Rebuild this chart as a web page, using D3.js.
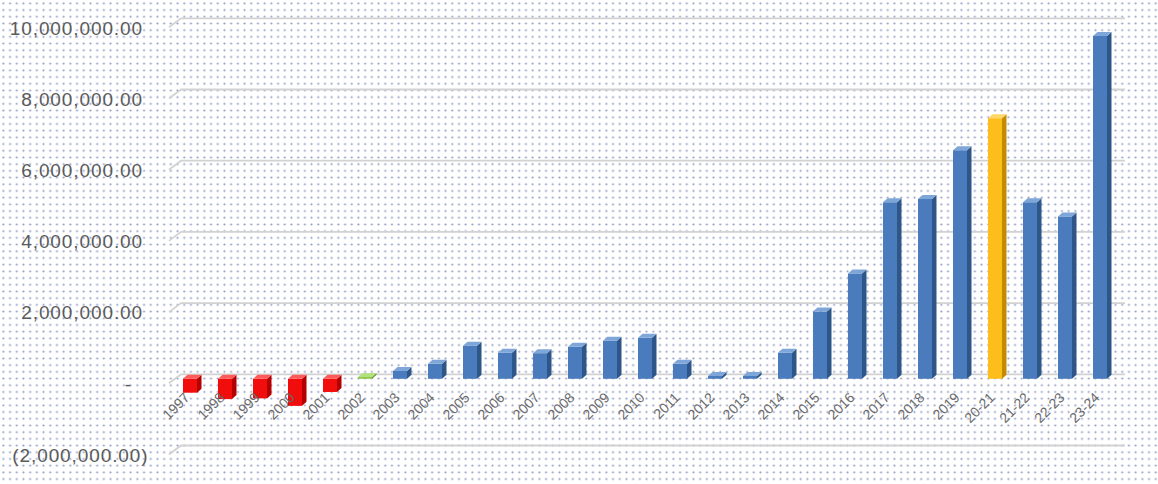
<!DOCTYPE html>
<html>
<head>
<meta charset="utf-8">
<script src="https://cdn.jsdelivr.net/npm/d3@7"></script>
<style>
  html, body { margin: 0; padding: 0; background: #ffffff; }
  svg { display: block; }
</style>
</head>
<body>
<svg id="chart" width="1158" height="484"></svg>
<script>
// ---- data ----
const categories = ["1997","1998","1999","2000","2001","2002","2003","2004","2005","2006","2007","2008","2009","2010","2011","2012","2013","2014","2015","2016","2017","2018","2019","20-21","21-22","22-23","23-24"];
const values = [-390000, -570000, -550000, -760000, -370000, 50000, 220000, 420000, 930000, 730000, 720000, 900000, 1070000, 1150000, 420000, 80000, 80000, 730000, 1890000, 2960000, 4960000, 5050000, 6420000, 7320000, 4960000, 4560000, 9630000];
const barGroups = ["red","red","red","red","red","green","blue","blue","blue","blue","blue","blue","blue","blue","blue","blue","blue","blue","blue","blue","blue","blue","blue","gold","blue","blue","blue"];
const yTicks = [-2000000, 0, 2000000, 4000000, 6000000, 8000000, 10000000];

// ---- styles ----
const palette = {
  red:   {front: "#f20d0d", side: "#b50000", top: "#ff5a5a"},
  green: {front: "#8fc84a", side: "#5f9a25", top: "#b5e07f"},
  blue:  {front: "#4a7cbd", side: "#2f5688", top: "#7fa6d8"},
  gold:  {front: "#fdbd1a", side: "#c58b00", top: "#ffd766"}
};

const svg = d3.select("#chart");
const W = 1158, H = 484;

// dotted background
const defs = svg.append("defs");
const P = 6.7;
const pat = defs.append("pattern").attr("id", "dots")
  .attr("patternUnits", "userSpaceOnUse").attr("width", P).attr("height", P);
pat.append("rect").attr("width", P).attr("height", P).attr("fill", "#ffffff");
pat.append("circle").attr("cx", P / 2).attr("cy", P / 2).attr("r", 1.05).attr("fill", "#8f99c4");
svg.append("rect").attr("width", W).attr("height", H).attr("fill", "url(#dots)");

// scales
const yBack = d3.scaleLinear().domain([-2000000, 10000000]).range([445.5, 18.3]);
const frontDy = 4.5;             // front face offset below back wall
const depthDx = 4.5, depthDy = 4; // bar depth projection
const yFront = v => yBack(v) + frontDy;
const x = d3.scaleBand().domain(categories).range([172.5, 1117.5]).padding(0);
const barW = 14;

// gridlines (back wall + left side wall slant)
const grid = svg.append("g");
const wallX0 = 169, wallX1 = 181, gridEnd = 1125, slantDy = 9;
yTicks.forEach(t => {
  const yy = yBack(t);
  grid.append("path")
    .attr("d", `M${wallX0},${yy + slantDy}L${wallX1},${yy}L${gridEnd},${yy}`)
    .attr("fill", "none").attr("stroke", "#d2d2d2").attr("stroke-width", 1.8);
});

// y axis labels
const yLab = d3.scaleLinear().domain(yBack.domain()).range(yBack.range().map(r => r + slantDy));
const fmtNum = d3.format(",.2f");
const yAxis = d3.axisLeft(yLab).tickValues(yTicks).tickSize(0).tickPadding(0)
  .tickFormat(v => v === 0 ? "-" : (v < 0 ? "(" + fmtNum(-v) + ")" : fmtNum(v)));
const yg = svg.append("g").attr("transform", "translate(143,0)").call(yAxis);
yg.select(".domain").remove();
yg.selectAll("text")
  .attr("fill", "#5a5a5a")
  .style("font-family", "'Liberation Sans', Arial, sans-serif")
  .style("font-size", "19px")
  .style("letter-spacing", "0.9px")
  .attr("dy", "0.36em")
  .attr("x", d => d < 0 ? 5.5 : (d === 0 ? -11 : 0));

// bars
const bars = svg.append("g");
categories.forEach((c, i) => {
  const v = values[i];
  const col = palette[barGroups[i]];
  const cx = x(c) + x.bandwidth() / 2;
  const x0 = cx - barW / 2, x1 = cx + barW / 2;
  const yt = Math.min(yFront(v), yFront(0));
  const yb = Math.max(yFront(v), yFront(0));
  const g = bars.append("g");
  // side face
  g.append("path")
    .attr("d", `M${x1},${yt}L${x1 + depthDx},${yt - depthDy}L${x1 + depthDx},${yb - depthDy}L${x1},${yb}Z`)
    .attr("fill", col.side);
  // front face
  g.append("rect").attr("x", x0).attr("y", yt).attr("width", barW).attr("height", Math.max(yb - yt, 0.5))
    .attr("fill", col.front);
  // top face
  g.append("path")
    .attr("d", `M${x0},${yt}L${x0 + depthDx},${yt - depthDy}L${x1 + depthDx},${yt - depthDy}L${x1},${yt}Z`)
    .attr("fill", col.top);
});

// x axis labels (rotated)
const xAxis = d3.axisBottom(x).tickSize(0).tickPadding(0);
const xg = svg.append("g").attr("transform", "translate(0,395)").call(xAxis);
xg.select(".domain").remove();
xg.selectAll("text")
  .attr("fill", "#6a6a6a")
  .style("font-family", "'Liberation Sans', Arial, sans-serif")
  .style("font-size", "14px")
  .attr("y", 0).attr("x", 0).attr("dy", "0.35em")
  .attr("transform", "translate(-3,0) rotate(-45)")
  .style("text-anchor", "end");
</script>
</body>
</html>
